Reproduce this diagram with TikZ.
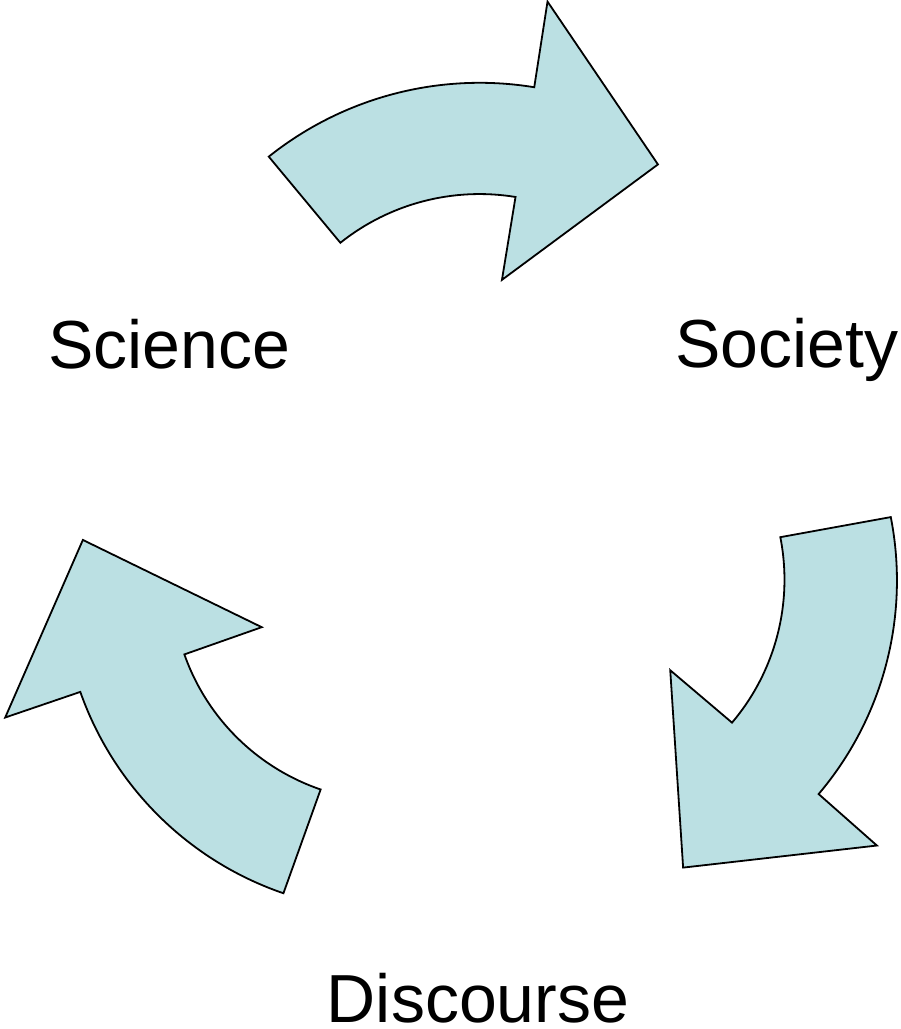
\documentclass[tikz,border=0pt]{standalone}
\usepackage{fontspec}
\setmainfont{Liberation Sans}
\usepackage{xcolor}
\usepackage{tikz}
\definecolor{cyclefill}{RGB}{187, 224, 227}

\begin{document}
\begin{tikzpicture}[x=1pt, y=1pt,
  cyclearrow/.style={draw=black, line width=1.8, fill=cyclefill, line join=miter},
  label/.style={anchor=base, inner sep=0, font=\fontsize{68}{80}\selectfont}]
\useasboundingbox (0,0) rectangle (901,-1029);

% top arrow: Science -> Society
\draw[cyclearrow, shift={(479,-420)}] (128.6:337) arc[start angle=128.6, end angle=80.7, radius=338]
  -- (80.7:424) -- (55:312) -- (80.7:142) -- (80.7:226)
  arc[start angle=80.7, end angle=128.6, radius=223] -- cycle;

% right arrow: Society -> Discourse
\draw[cyclearrow, shift={(565,-581)}] (11.1:332) arc[start angle=11.1, end angle=-40.3, radius=330]
  -- (-40.3:409) -- (-67.6:310) -- (-40.3:138) -- (-40.3:219)
  arc[start angle=-40.3, end angle=11.1, radius=221] -- cycle;

% left arrow: Discourse -> Science
\draw[cyclearrow, shift={(390,-582)}] (-108.9:329) arc[start angle=-108.9, end angle=-160.6, radius=328]
  -- (-160.6:408) -- (-187.8:310) -- (-160.6:136) -- (-160.6:218)
  arc[start angle=-160.6, end angle=-108.9, radius=220] -- cycle;

\node[label] (science) at (169,-368) {Science};
\node[label] (society) at (787,-367) {Society};
\node[label] (discourse) at (478,-1022) {Discourse};
\end{tikzpicture}
\end{document}
